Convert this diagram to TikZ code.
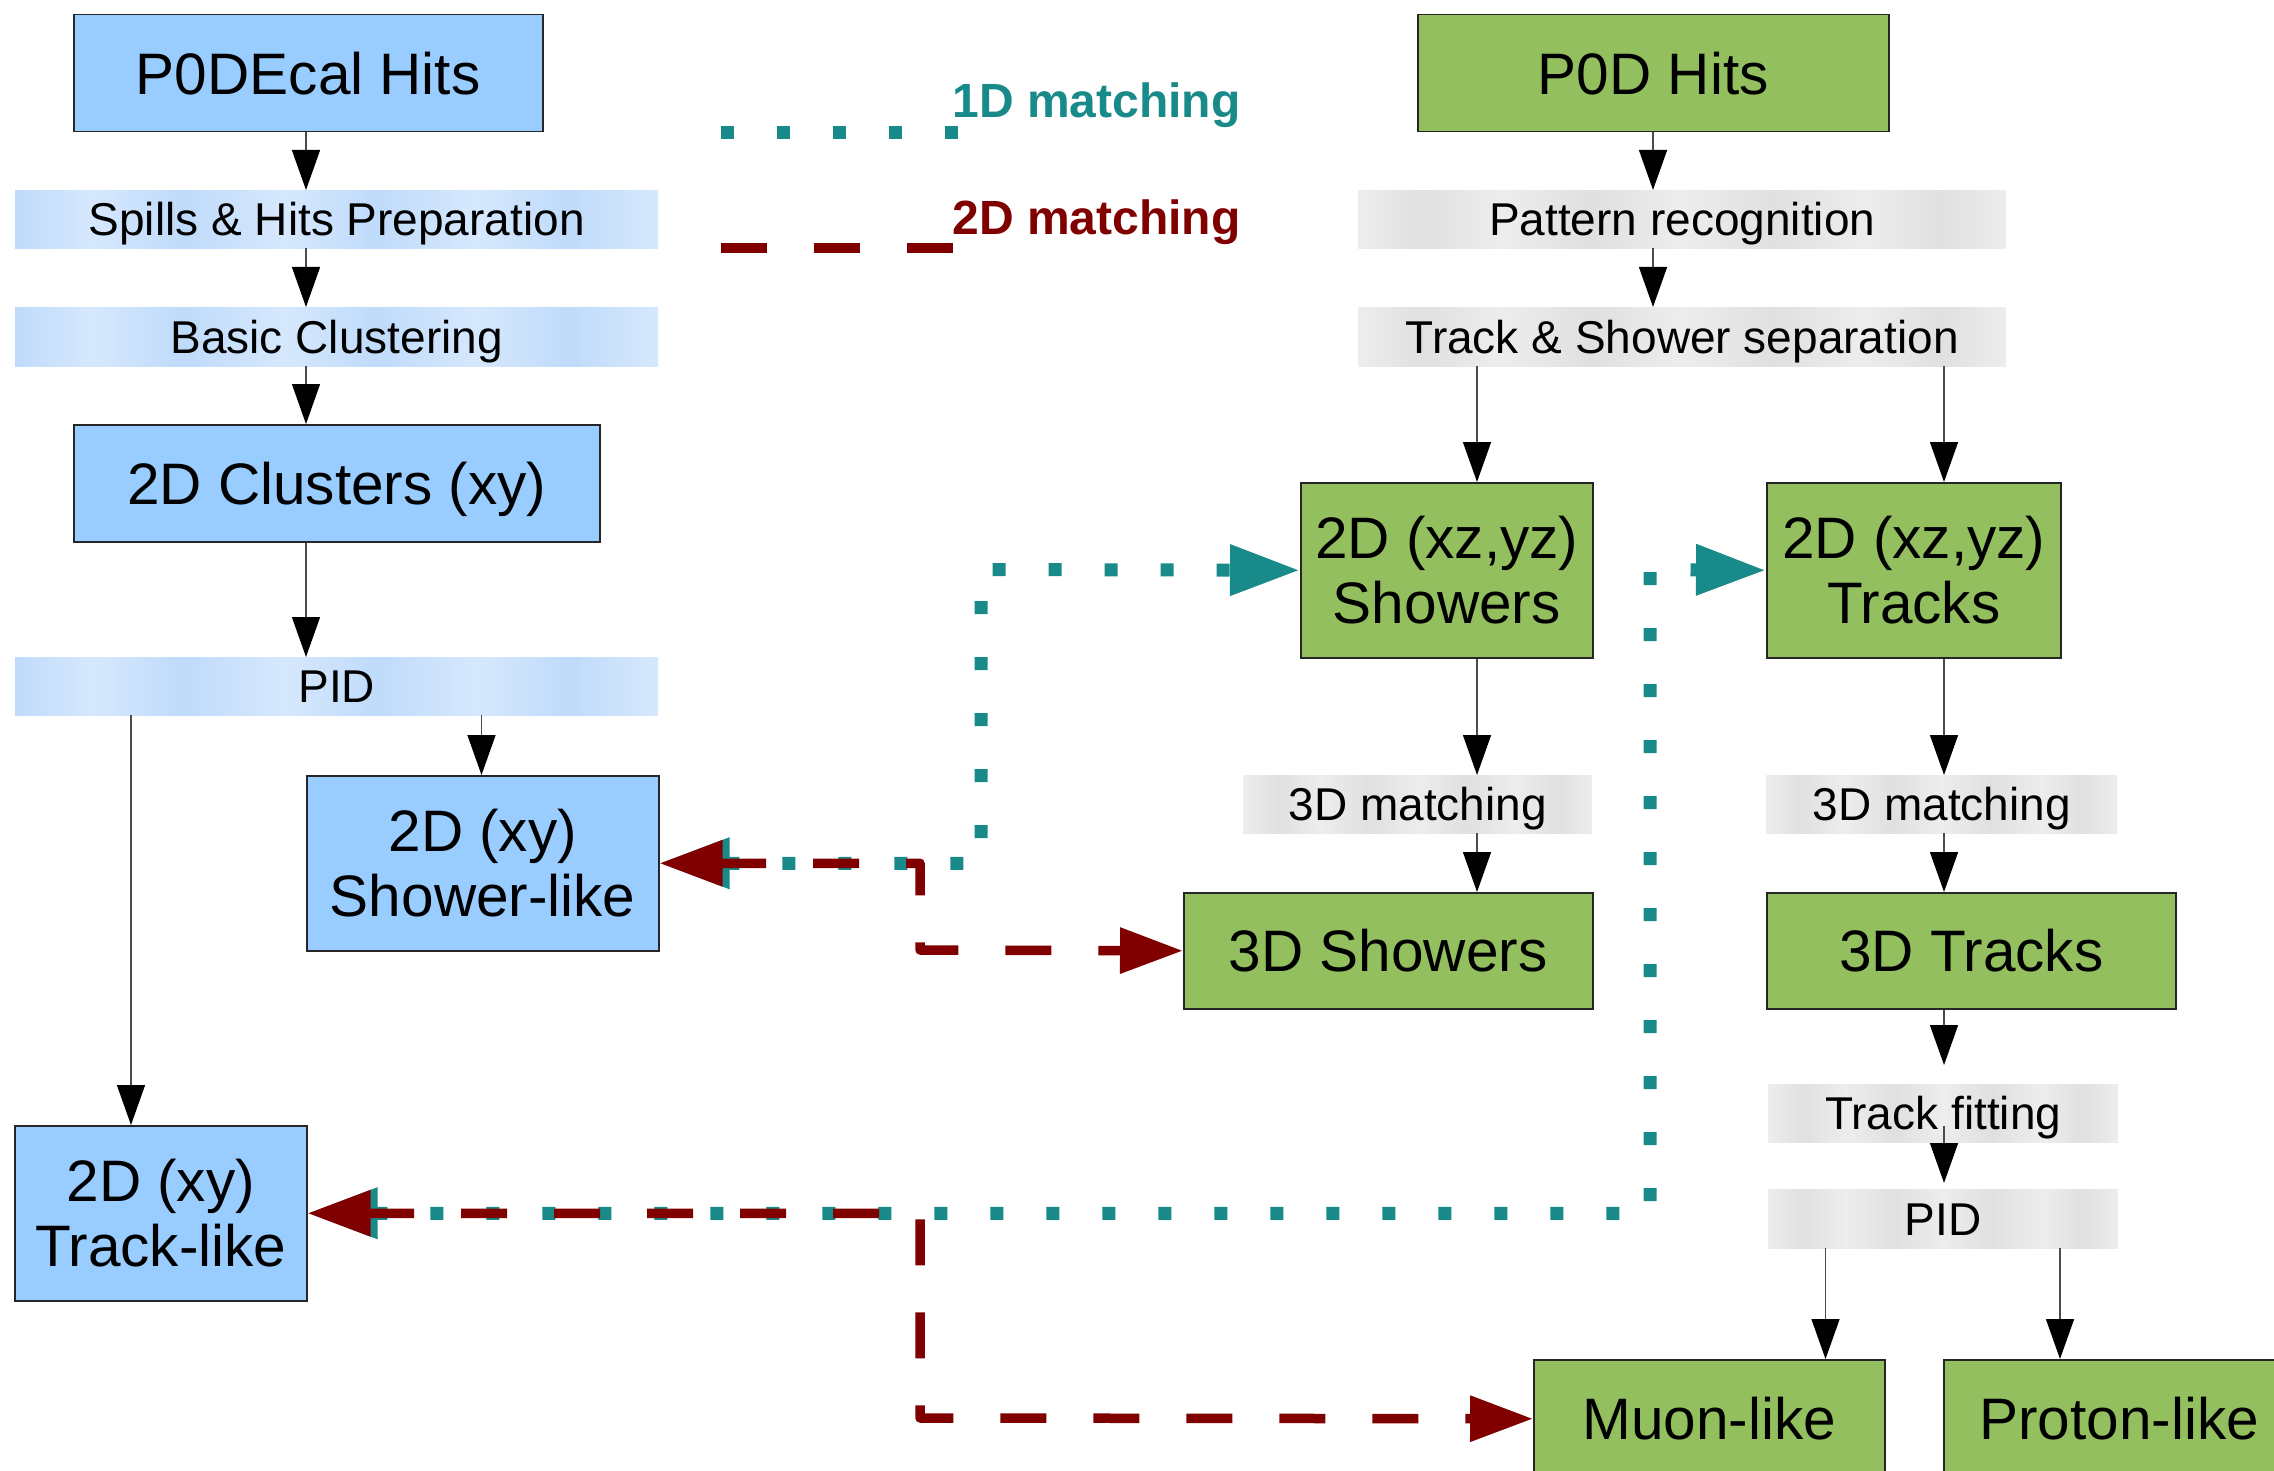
\documentclass[tikz,border=0pt]{standalone}
\usepackage{fontspec}
\setmainfont{Liberation Sans}
\usetikzlibrary{arrows.meta}
\definecolor{boxblue}{HTML}{99CCFF}
\definecolor{boxgreen}{HTML}{93BF5F}
\definecolor{tealc}{HTML}{198A8A}
\definecolor{redc}{HTML}{800000}
\definecolor{blA}{HTML}{BFDBFB}
\definecolor{blB}{HTML}{D6E8FD}
\definecolor{grA}{HTML}{E0E0E0}
\definecolor{grB}{HTML}{EDEDED}
\pgfdeclarehorizontalshading{bandblue}{100bp}{color(0bp)=(blA); color(25bp)=(blA); color(31bp)=(blB); color(38bp)=(blA); color(46bp)=(blB); color(53bp)=(blA); color(61bp)=(blB); color(68bp)=(blA); color(75bp)=(blB); color(100bp)=(blB)}
\pgfdeclarehorizontalshading{bandgray}{100bp}{color(0bp)=(grB); color(25bp)=(grB); color(30bp)=(grA); color(36bp)=(grB); color(43bp)=(grA); color(50bp)=(grB); color(57bp)=(grA); color(64bp)=(grB); color(70bp)=(grA); color(75bp)=(grB); color(100bp)=(grB)}
\begin{document}
\begin{tikzpicture}[x=1pt,y=-1pt,
  bigtxt/.style={font=\fontsize{58.5}{65}\selectfont},
  midtxt/.style={font=\fontsize{46}{52}\selectfont},
  solidbox/.style={draw=black!85, line width=1.5pt, inner sep=0pt, anchor=north west, align=center, bigtxt},
  bluebox/.style={solidbox, fill=boxblue},
  greenbox/.style={solidbox, fill=boxgreen},
  oneline/.style={text height=42pt, text depth=0pt},
  band/.style={inner sep=0pt, anchor=north west, midtxt, text height=33pt, text depth=0pt},
  blueband/.style={band, shading=bandblue},
  grayband/.style={band, shading=bandgray},
  flow/.style={draw=black!70, line width=1.4pt, -{Triangle[length=40pt,width=28pt,color=black]}},
  matchlineA/.style={draw=tealc, line width=13pt, dash pattern=on 13pt off 43pt},
  matchlineB/.style={draw=redc, line width=9.5pt, dash pattern=on 46pt off 47pt, line join=round},
  matchA/.style={matchlineA, {Triangle[length=70pt,width=48pt]}-{Triangle[length=70pt,width=48pt]}},
  matchB/.style={matchlineB, {Triangle[length=63pt,width=44pt]}-{Triangle[length=63pt,width=44pt]}},
  legendtxt/.style={anchor=base west, font=\fontsize{48}{52}\selectfont\bfseries}
]
\useasboundingbox (0,0) rectangle (2274,1471);
\clip (0,0) rectangle (2274,1471);
\fill[white] (0,0) rectangle (2274,1471);

% ---------- left column ----------
\node[bluebox, oneline, minimum width=469pt, minimum height=117pt] (p0dE) at (73,14) {P0DEcal Hits};
\node[blueband, minimum width=643pt, minimum height=58pt] (spills) at (15,190) {Spills \& Hits Preparation};
\node[blueband, minimum width=643pt, minimum height=59pt] (basic) at (15,307) {Basic Clustering};
\node[bluebox, oneline, minimum width=526pt, minimum height=117pt] (clus) at (73,424) {2D Clusters (xy)};
\node[blueband, minimum width=643pt, minimum height=58pt] (pidL) at (15,657) {PID};
\node[bluebox, minimum width=352pt, minimum height=175pt] (shl) at (306,775) {2D (xy)\\Shower-like};
\node[bluebox, minimum width=292pt, minimum height=175pt] (tl) at (14,1125) {2D (xy)\\Track-like};

% ---------- right column ----------
\node[greenbox, oneline, minimum width=471pt, minimum height=117pt] (p0d) at (1417,14) {P0D Hits};
\node[grayband, minimum width=648pt, minimum height=58pt] (patt) at (1358,190) {Pattern recognition};
\node[grayband, minimum width=648pt, minimum height=59pt] (tsep) at (1358,307) {Track \& Shower separation};
\node[greenbox, minimum width=292pt, minimum height=175pt] (s2d) at (1300,482) {2D (xz,yz)\\Showers};
\node[greenbox, minimum width=294pt, minimum height=175pt] (t2d) at (1766,482) {2D (xz,yz)\\Tracks};
\node[grayband, minimum width=349pt, minimum height=58pt] (m3dL) at (1243,775) {3D matching};
\node[grayband, minimum width=351pt, minimum height=58pt] (m3dR) at (1766,775) {3D matching};
\node[greenbox, oneline, minimum width=409pt, minimum height=116pt] (sh3d) at (1183,892) {3D Showers};
\node[greenbox, oneline, minimum width=409pt, minimum height=116pt] (tr3d) at (1766,892) {3D Tracks};
\node[grayband, minimum width=350pt, minimum height=58pt] (tfit) at (1768,1084) {Track fitting};
\node[grayband, minimum width=350pt, minimum height=59pt] (pidR) at (1768,1189) {PID};
\node[greenbox, oneline, minimum width=351pt, minimum height=118pt] (muon) at (1533,1359) {Muon-like};
\node[greenbox, oneline, minimum width=351pt, minimum height=118pt] (proton) at (1943,1359) {Proton-like};

% ---------- arrow columns ----------
\coordinate (xa) at (306,0);
\coordinate (xb) at (481.5,0);
\coordinate (xc) at (131,0);
\coordinate (xd) at (1653,0);
\coordinate (xe) at (1477,0);
\coordinate (xf) at (1944,0);
\coordinate (xg) at (1825.5,0);
\coordinate (xh) at (2060,0);

\draw[flow] (p0dE.south -| xa) -- (spills.north -| xa);
\draw[flow] (spills.south -| xa) -- (basic.north -| xa);
\draw[flow] (basic.south -| xa) -- (clus.north -| xa);
\draw[flow] (clus.south -| xa) -- (pidL.north -| xa);
\draw[flow] (pidL.south -| xb) -- (shl.north -| xb);
\draw[flow] (pidL.south -| xc) -- (tl.north -| xc);

\draw[flow] (p0d.south -| xd) -- (patt.north -| xd);
\draw[flow] (patt.south -| xd) -- (tsep.north -| xd);
\draw[flow] (tsep.south -| xe) -- (s2d.north -| xe);
\draw[flow] (s2d.south -| xe) -- (m3dL.north -| xe);
\draw[flow] (m3dL.south -| xe) -- (sh3d.north -| xe);
\draw[flow] (tsep.south -| xf) -- (t2d.north -| xf);
\draw[flow] (t2d.south -| xf) -- (m3dR.north -| xf);
\draw[flow] (m3dR.south -| xf) -- (tr3d.north -| xf);
\draw[flow, shorten >=19pt] (tr3d.south -| xf) -- (tfit.north -| xf);
\draw[flow, shorten <=-16pt, shorten >=6pt] (tfit.south -| xf) -- (pidR.north -| xf);
\draw[flow] (pidR.south -| xg) -- (muon.north -| xg);
\draw[flow] (pidR.south -| xh) -- (proton.north -| xh);

% ---------- matching connectors ----------
\coordinate (c1) at (981,569.5);
\coordinate (c2) at (920,950);
\coordinate (c3) at (1650,569.5);
\coordinate (c4) at (920,1418);

\draw[matchA] (shl.east) -| (c1) -- (s2d.west);
\draw[matchA] (tl.east) -| (c3) -- (t2d.west);
\draw[matchB] (shl.east) -| (c2) -- (sh3d.west);
\draw[matchB] (tl.east) -| (c4) -- (muon.west);

% ---------- legend ----------
\coordinate (l1a) at (721,133);
\coordinate (l1b) at (958,133);
\coordinate (l2a) at (721,248);
\coordinate (l2b) at (954,248);
\draw[matchlineA] (l1a) -- (l1b);
\draw[matchlineB] (l2a) -- (l2b);
\node[legendtxt, text=tealc] (lg1) at (949,118) {1D matching};
\node[legendtxt, text=redc] (lg2) at (949,235) {2D matching};
\end{tikzpicture}
\end{document}
